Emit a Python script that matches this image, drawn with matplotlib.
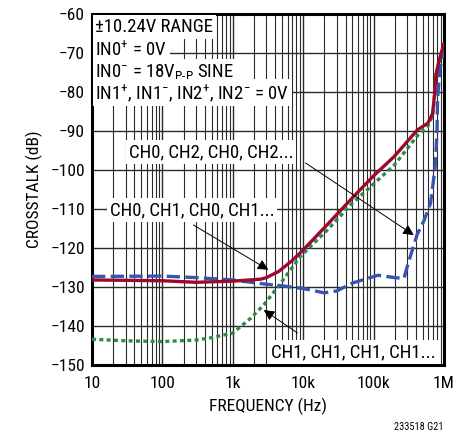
import matplotlib
matplotlib.use('Agg')
import matplotlib.pyplot as plt
import numpy as np

# 窄体字体（接近原图的 Helvetica Condensed）
plt.rcParams['font.family'] = ['Roboto Condensed', 'Liberation Sans', 'DejaVu Sans']
plt.rcParams['mathtext.fontset'] = 'custom'
plt.rcParams['mathtext.rm'] = 'Roboto Condensed'
plt.rcParams['mathtext.it'] = 'Roboto Condensed'
plt.rcParams['axes.unicode_minus'] = True

# 数据：从原图读取
freq_red = [10, 100, 300, 1000, 2500, 3000, 4500, 7000, 10000, 20000, 52000, 100000,
            195000, 420000, 590000, 690000, 740000, 770000, 850000, 1000000]
xtalk_red = [-128.2, -128.4, -128.8, -128.5, -128.0, -127.6, -126.0, -123.2, -120.5, -114.8,
             -106.8, -101.5, -96.6, -89.7, -88.0, -85.5, -80.0, -75.5, -72.0, -67.5]

freq_blue = [10, 100, 300, 1000, 3000, 5000, 10000, 20000, 30000, 50000, 115000, 200000,
             270000, 300000, 355000, 417000, 525000, 645000, 750000, 795000, 810000, 870000, 1000000]
xtalk_blue = [-127.3, -127.2, -127.6, -128.2, -129.3, -129.7, -130.4, -131.5, -131.0, -129.0,
              -127.0, -127.6, -127.8, -124.8, -120.5, -116.5, -112.8, -108.5, -99.1, -90.6,
              -82.0, -74.4, -69.2]

freq_green = [10, 30, 100, 300, 500, 1000, 1800, 2750, 4800, 9100, 22000, 50000, 100000,
              200000, 420000, 590000, 690000, 740000, 770000, 850000, 1000000]
xtalk_green = [-143.4, -143.8, -144.0, -143.6, -143.0, -141.8, -138.0, -134.6, -129.0, -122.2,
               -115.4, -108.5, -103.6, -98.6, -91.2, -88.8, -86.0, -80.4, -75.8, -72.2, -67.6]

red = '#9B0A2E'
blue = '#3656B0'
green = '#2E8B47'
fs = 12.5

fig = plt.figure(figsize=(4.68, 4.37), dpi=100)
ax = fig.add_axes([0.1966, 0.1648, 0.7521, 0.8032])

ax.plot(freq_green, xtalk_green, color=green, lw=2.4, linestyle=(0, (1.2, 1.0)), zorder=3)
ax.plot(freq_blue, xtalk_blue, color=blue, lw=2.4, linestyle=(0, (4.0, 1.6)), zorder=4)
ax.plot(freq_red, xtalk_red, color=red, lw=2.4, zorder=5, solid_capstyle='round')

ax.set_xscale('log')
ax.set_xlim(10, 1e6)
ax.set_ylim(-150, -60)
ax.set_yticks(np.arange(-150, -59, 10))
ax.set_xticks([10, 100, 1e3, 1e4, 1e5, 1e6])
ax.set_xticklabels(['10', '100', '1k', '10k', '100k', '1M'])
ax.minorticks_on()
ax.yaxis.set_minor_locator(matplotlib.ticker.NullLocator())
ax.tick_params(which='both', length=0, labelsize=fs)
ax.tick_params(axis='x', pad=8)
ax.tick_params(axis='y', pad=5)
ax.grid(which='major', color='#2a2a2a', lw=1.0)
ax.grid(which='minor', axis='x', color='#2a2a2a', lw=0.8)
for s in ax.spines.values():
    s.set_linewidth(2.2)

ax.set_xlabel('FREQUENCY (Hz)', fontsize=fs, labelpad=5)
ax.set_ylabel('CROSSTALK (dB)', fontsize=fs, labelpad=5)

# 条件说明（每行单独白底）
box = dict(boxstyle='square,pad=0.15', fc='white', ec='none')
cond = ['±10.24V RANGE', 'IN0$^{+}$ = 0V', 'IN0$^{-}$ = 18V$_{\\mathrm{P\\text{-}P}}$ SINE',
        'IN1$^{+}$, IN1$^{-}$, IN2$^{+}$, IN2$^{-}$ = 0V']
cond_y = [-63.3, -69.2, -74.8, -80.2]
for s, yv in zip(cond, cond_y):
    ax.text(11.2, yv, s, ha='left', va='center', fontsize=13.5, bbox=box, zorder=6)

arrow = dict(arrowstyle='-|>', color='black', lw=0.7, mutation_scale=16, shrinkA=0, shrinkB=0)
ax.annotate('', xy=(3.72e5, -116.7), xytext=(1.08e4, -98.2), arrowprops=arrow, zorder=7)
ax.text(7.2e3, -95.4, 'CH0, CH2, CH0, CH2...', ha='right', va='center', fontsize=13.5,
        bbox=box, zorder=6)

ax.annotate('', xy=(3.2e3, -125.6), xytext=(276, -114.1), arrowprops=arrow, zorder=7)
ax.text(18, -110.3, 'CH0, CH1, CH0, CH1...', ha='left', va='center', fontsize=13.5,
        bbox=box, zorder=6)

ax.annotate('', xy=(2.75e3, -135.9), xytext=(8.3e3, -141.8), arrowprops=arrow, zorder=7)
ax.text(7.7e5, -146.7, 'CH1, CH1, CH1, CH1...', ha='right', va='center', fontsize=13.5,
        bbox=box, zorder=6)

fig.text(0.947, 0.012, '233518 G21', ha='right', va='bottom', fontsize=7.5)

fig.savefig('out.png', dpi=100, facecolor='white')
plt.close(fig)
